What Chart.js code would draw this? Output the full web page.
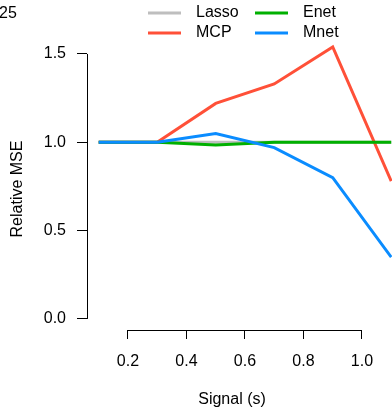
<!DOCTYPE html>
<html>
<head>
<meta charset="utf-8">
<script src="https://cdn.jsdelivr.net/npm/chart.js@4"></script>
<style>
  html, body { margin: 0; padding: 0; background: #fff; }
  #wrap { width: 392px; height: 410px; }
</style>
</head>
<body>
<div id="wrap"><canvas id="mseChart" width="392" height="410"></canvas></div>
<script>
// values
const signal = [0.1, 0.3, 0.5, 0.7, 0.9, 1.1]
const lasso  = [1.0, 1.0, 1.0, 1.0, 1.0, 1.0]
const mcp    = [1.0, 1.0, 1.22, 1.33, 1.54, 0.78]
const enet   = [1.0, 1.0, 0.985, 1.0, 1.0, 1.0]
const mnet   = [1.0, 1.0, 1.05, 0.97, 0.80, 0.35]

const xTicks = [0.2, 0.4, 0.6, 0.8, 1.0]
const yTicks = [0.0, 0.5, 1.0, 1.5]

const FONT = "'Liberation Sans', Arial, Helvetica, sans-serif"

const series = [
  { label: 'Lasso', data: lasso, color: '#bebebe', order: 4 },
  { label: 'MCP',   data: mcp,   color: '#ff5038', order: 3 },
  { label: 'Enet',  data: enet,  color: '#00b000', order: 2 },
  { label: 'Mnet',  data: mnet,  color: '#0a8cff', order: 1 },
]

const toPoints = arr => arr.map((v, i) => ({ x: signal[i], y: v }))

// R-style axis lines (only between first and last tick), legend, titles
const rStyle = {
  id: 'rStyle',
  afterDraw(chart) {
    const { ctx, scales: { x, y } } = chart
    ctx.save()
    ctx.strokeStyle = '#000'
    ctx.lineWidth = 1
    ctx.beginPath()
    const ax = Math.round(x.left) + 0.5
    ctx.moveTo(ax, y.getPixelForValue(yTicks[0]))
    ctx.lineTo(ax, y.getPixelForValue(yTicks[yTicks.length - 1]))
    const ay = Math.round(y.bottom) + 0.5
    ctx.moveTo(x.getPixelForValue(xTicks[0]), ay)
    ctx.lineTo(x.getPixelForValue(xTicks[xTicks.length - 1]), ay)
    ctx.stroke()

    ctx.fillStyle = '#000'
    ctx.font = `16px ${FONT}`
    ctx.textBaseline = 'middle'

    // legend, two columns
    const cols = [148, 255]
    const rows = [13, 33]
    const layout = [[0, 0], [0, 1], [1, 0], [1, 1]]
    series.forEach((s, i) => {
      const [c, r] = layout[i]
      ctx.strokeStyle = s.color
      ctx.lineWidth = 3
      ctx.beginPath()
      ctx.moveTo(cols[c], rows[r])
      ctx.lineTo(cols[c] + 33, rows[r])
      ctx.stroke()
      ctx.textAlign = 'left'
      ctx.fillText(s.label, cols[c] + 48, rows[r])
    })

    // clipped title fragment
    ctx.textAlign = 'left'
    ctx.fillText('25', -1, 14)

    // axis titles
    ctx.textAlign = 'center'
    ctx.fillText('Signal (s)', 232, 400)
    ctx.translate(18, 189)
    ctx.rotate(-Math.PI / 2)
    ctx.fillText('Relative MSE', 0, 0)
    ctx.restore()
  }
}

new Chart(document.getElementById('mseChart'), {
  type: 'line',
  data: {
    datasets: series.map(s => ({
      label: s.label,
      data: toPoints(s.data),
      borderColor: s.color,
      backgroundColor: s.color,
      borderWidth: 3,
      pointRadius: 0,
      tension: 0,
      order: s.order,
    }))
  },
  options: {
    responsive: false,
    animation: false,
    devicePixelRatio: 1,
    layout: { padding: { top: 40, left: 0, right: 0, bottom: 0 } },
    plugins: { legend: { display: false }, tooltip: { enabled: false } },
    scales: {
      x: {
        type: 'linear',
        min: 0.06,
        max: 1.1026,
        afterFit: s => { s.height = 80 },
        afterBuildTicks: s => { s.ticks = xTicks.map(v => ({ value: v })) },
        grid: { drawOnChartArea: false, drawTicks: true, tickLength: 9, color: '#000' },
        border: { display: false },
        ticks: {
          color: '#000', padding: 13, maxRotation: 0,
          font: { family: FONT, size: 16 },
          callback: v => v.toFixed(1)
        }
      },
      y: {
        min: -0.0625,
        max: 1.579,
        afterFit: s => { s.width = 87 },
        afterBuildTicks: s => { s.ticks = yTicks.map(v => ({ value: v })) },
        grid: { drawOnChartArea: false, drawTicks: true, tickLength: 10, color: '#000' },
        border: { display: false },
        ticks: {
          color: '#000', padding: 11,
          font: { family: FONT, size: 16 },
          callback: v => v.toFixed(1)
        }
      }
    }
  },
  plugins: [rStyle]
})
</script>
</body>
</html>
